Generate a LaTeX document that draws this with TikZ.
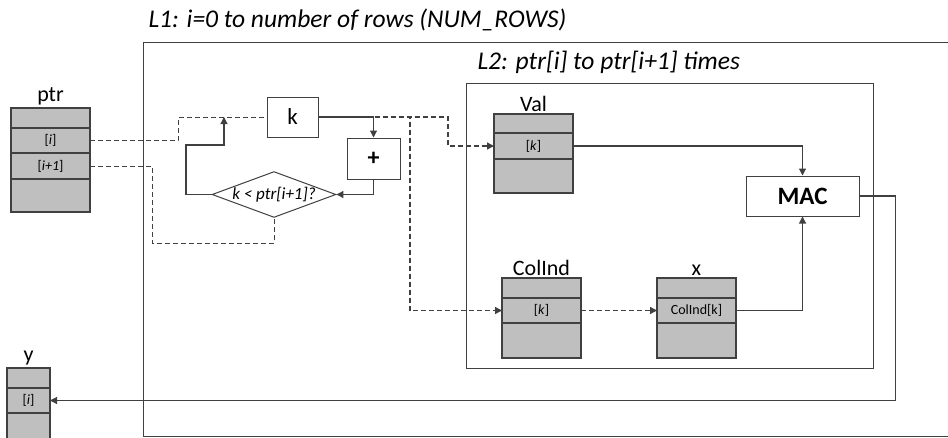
\documentclass[tikz,border=0pt]{standalone}
\usepackage{fontspec}
\setmainfont{Carlito}
\usetikzlibrary{arrows.meta,positioning,shapes.geometric}
\definecolor{CellGray}{RGB}{191,191,191}
\definecolor{LineGray}{RGB}{64,64,64}

\begin{document}
\begin{tikzpicture}[x=1pt,y=-1pt,
  cell/.style={draw=LineGray,line width=1.3pt,fill=CellGray,minimum width=79pt,
    inner sep=0pt,outer sep=0pt,font=\fontsize{14}{16}\selectfont},
  box/.style={draw=LineGray,line width=1pt,fill=white,inner sep=0pt},
  lbl/.style={font=\fontsize{22}{24}\selectfont},
  looplbl/.style={font=\fontsize{25.5}{28}\selectfont\itshape,anchor=west},
  flow/.style={LineGray,line width=1.1pt,-{Triangle[length=7pt,width=7pt]}},
  dline/.style={LineGray,line width=1.3pt,dash pattern=on 5pt off 3pt},
  dflow/.style={dline,-{Triangle[length=7pt,width=7pt]}}]
  \useasboundingbox (0,0) rectangle (948,437);

  % loop frames
  \draw[LineGray,line width=1pt] (950,42) -- (143,42) -- (143,436) -- (950,436);
  \draw[LineGray,line width=1pt] (466,83) rectangle (873,368);
  \node[looplbl] (loopone) at (145,20) {L1: i=0 to number of rows (NUM\_ROWS)};
  \node[looplbl] (looptwo) at (474,62) {L2: ptr[i] to ptr[i+1] times};

  % ptr array
  \node[cell,minimum height=20pt] (ptra) at (50.5,118) {};
  \node[cell,minimum height=25pt,below=0pt of ptra] (ptri) {[\textit{i}]};
  \node[cell,minimum height=26pt,below=0pt of ptri] (ptrii) {[\textit{i+1}]};
  \node[cell,minimum height=33pt,below=0pt of ptrii] (ptrb) {};
  \node[lbl,above=-1pt of ptra] (ptrname) {ptr};

  % y array
  \node[cell,minimum width=43pt,minimum height=20pt] (ya) at (28.5,378) {};
  \node[cell,minimum width=43pt,minimum height=25pt,below=0pt of ya] (yi) {[\textit{i}]};
  \node[cell,minimum width=43pt,minimum height=26pt,below=0pt of yi] (yb) {};
  \node[lbl,above=-1pt of ya] (yname) {y};

  % Val array
  \node[cell,minimum height=19pt] (vala) at (533.5,123.5) {};
  \node[cell,minimum height=26pt,below=0pt of vala] (valk) {[\textit{k}]};
  \node[cell,minimum height=34pt,below=0pt of valk] (valb) {};
  \node[lbl,above=-1pt of vala] (valname) {Val};

  % ColInd array
  \node[cell,minimum height=20pt] (cola) at (541.5,288) {};
  \node[cell,minimum height=25pt,below=0pt of cola] (colk) {[\textit{k}]};
  \node[cell,minimum height=35pt,below=0pt of colk] (colb) {};
  \node[lbl,above=-1pt of cola] (colname) {ColInd};

  % x array
  \node[cell,minimum height=20pt] (xa) at (696.5,288) {};
  \node[cell,minimum height=25pt,below=0pt of xa] (xk) {ColInd[k]};
  \node[cell,minimum height=35pt,below=0pt of xk] (xb) {};
  \node[lbl,above=-1pt of xa] (xname) {x};

  % control
  \node[box,minimum width=51pt,minimum height=40pt,font=\fontsize{23}{25}\selectfont] (k) at (292.5,117) {k};
  \node[box,minimum width=53pt,minimum height=41pt,font=\fontsize{24}{26}\bfseries] (plus) at (373.5,158.5) {+};
  \node[box,diamond,aspect=2.7,minimum width=122pt,minimum height=45pt,
    font=\fontsize{17}{19}\selectfont\itshape] (cond) at (274,194.5) {k < ptr[i+1]?};
  \node[box,minimum width=113pt,minimum height=40pt,font=\fontsize{25}{27}\selectfont\bfseries] (mac) at (802.5,196) {MAC};
  \coordinate (kin) at (224,117);

  % connectors
  \draw[dline,line width=1pt] (ptri.east) -- ++(88,0) |- (k.west);
  \draw[dline,line width=1pt] (ptrii.east) -| (152,243) -| (cond.south);
  \draw[flow] (cond.west) -| (186,145) -| (kin);
  \draw[flow] (k.east) -| (plus.north);
  \draw[flow] (plus.south) |- (cond.east);
  \draw[dflow] (k.east) -- (448,117) |- (valk.west);
  \draw[dflow] (k.east) -- (410,117) |- (colk.west);
  \draw[dflow] (colk.east) -- (xk.west);
  \draw[flow] (valk.east) -| (mac.north);
  \draw[flow] (xk.east) -| (mac.south);
  \draw[flow] (mac.east) -- ++(36,0) |- (yi.east);
\end{tikzpicture}
\end{document}
